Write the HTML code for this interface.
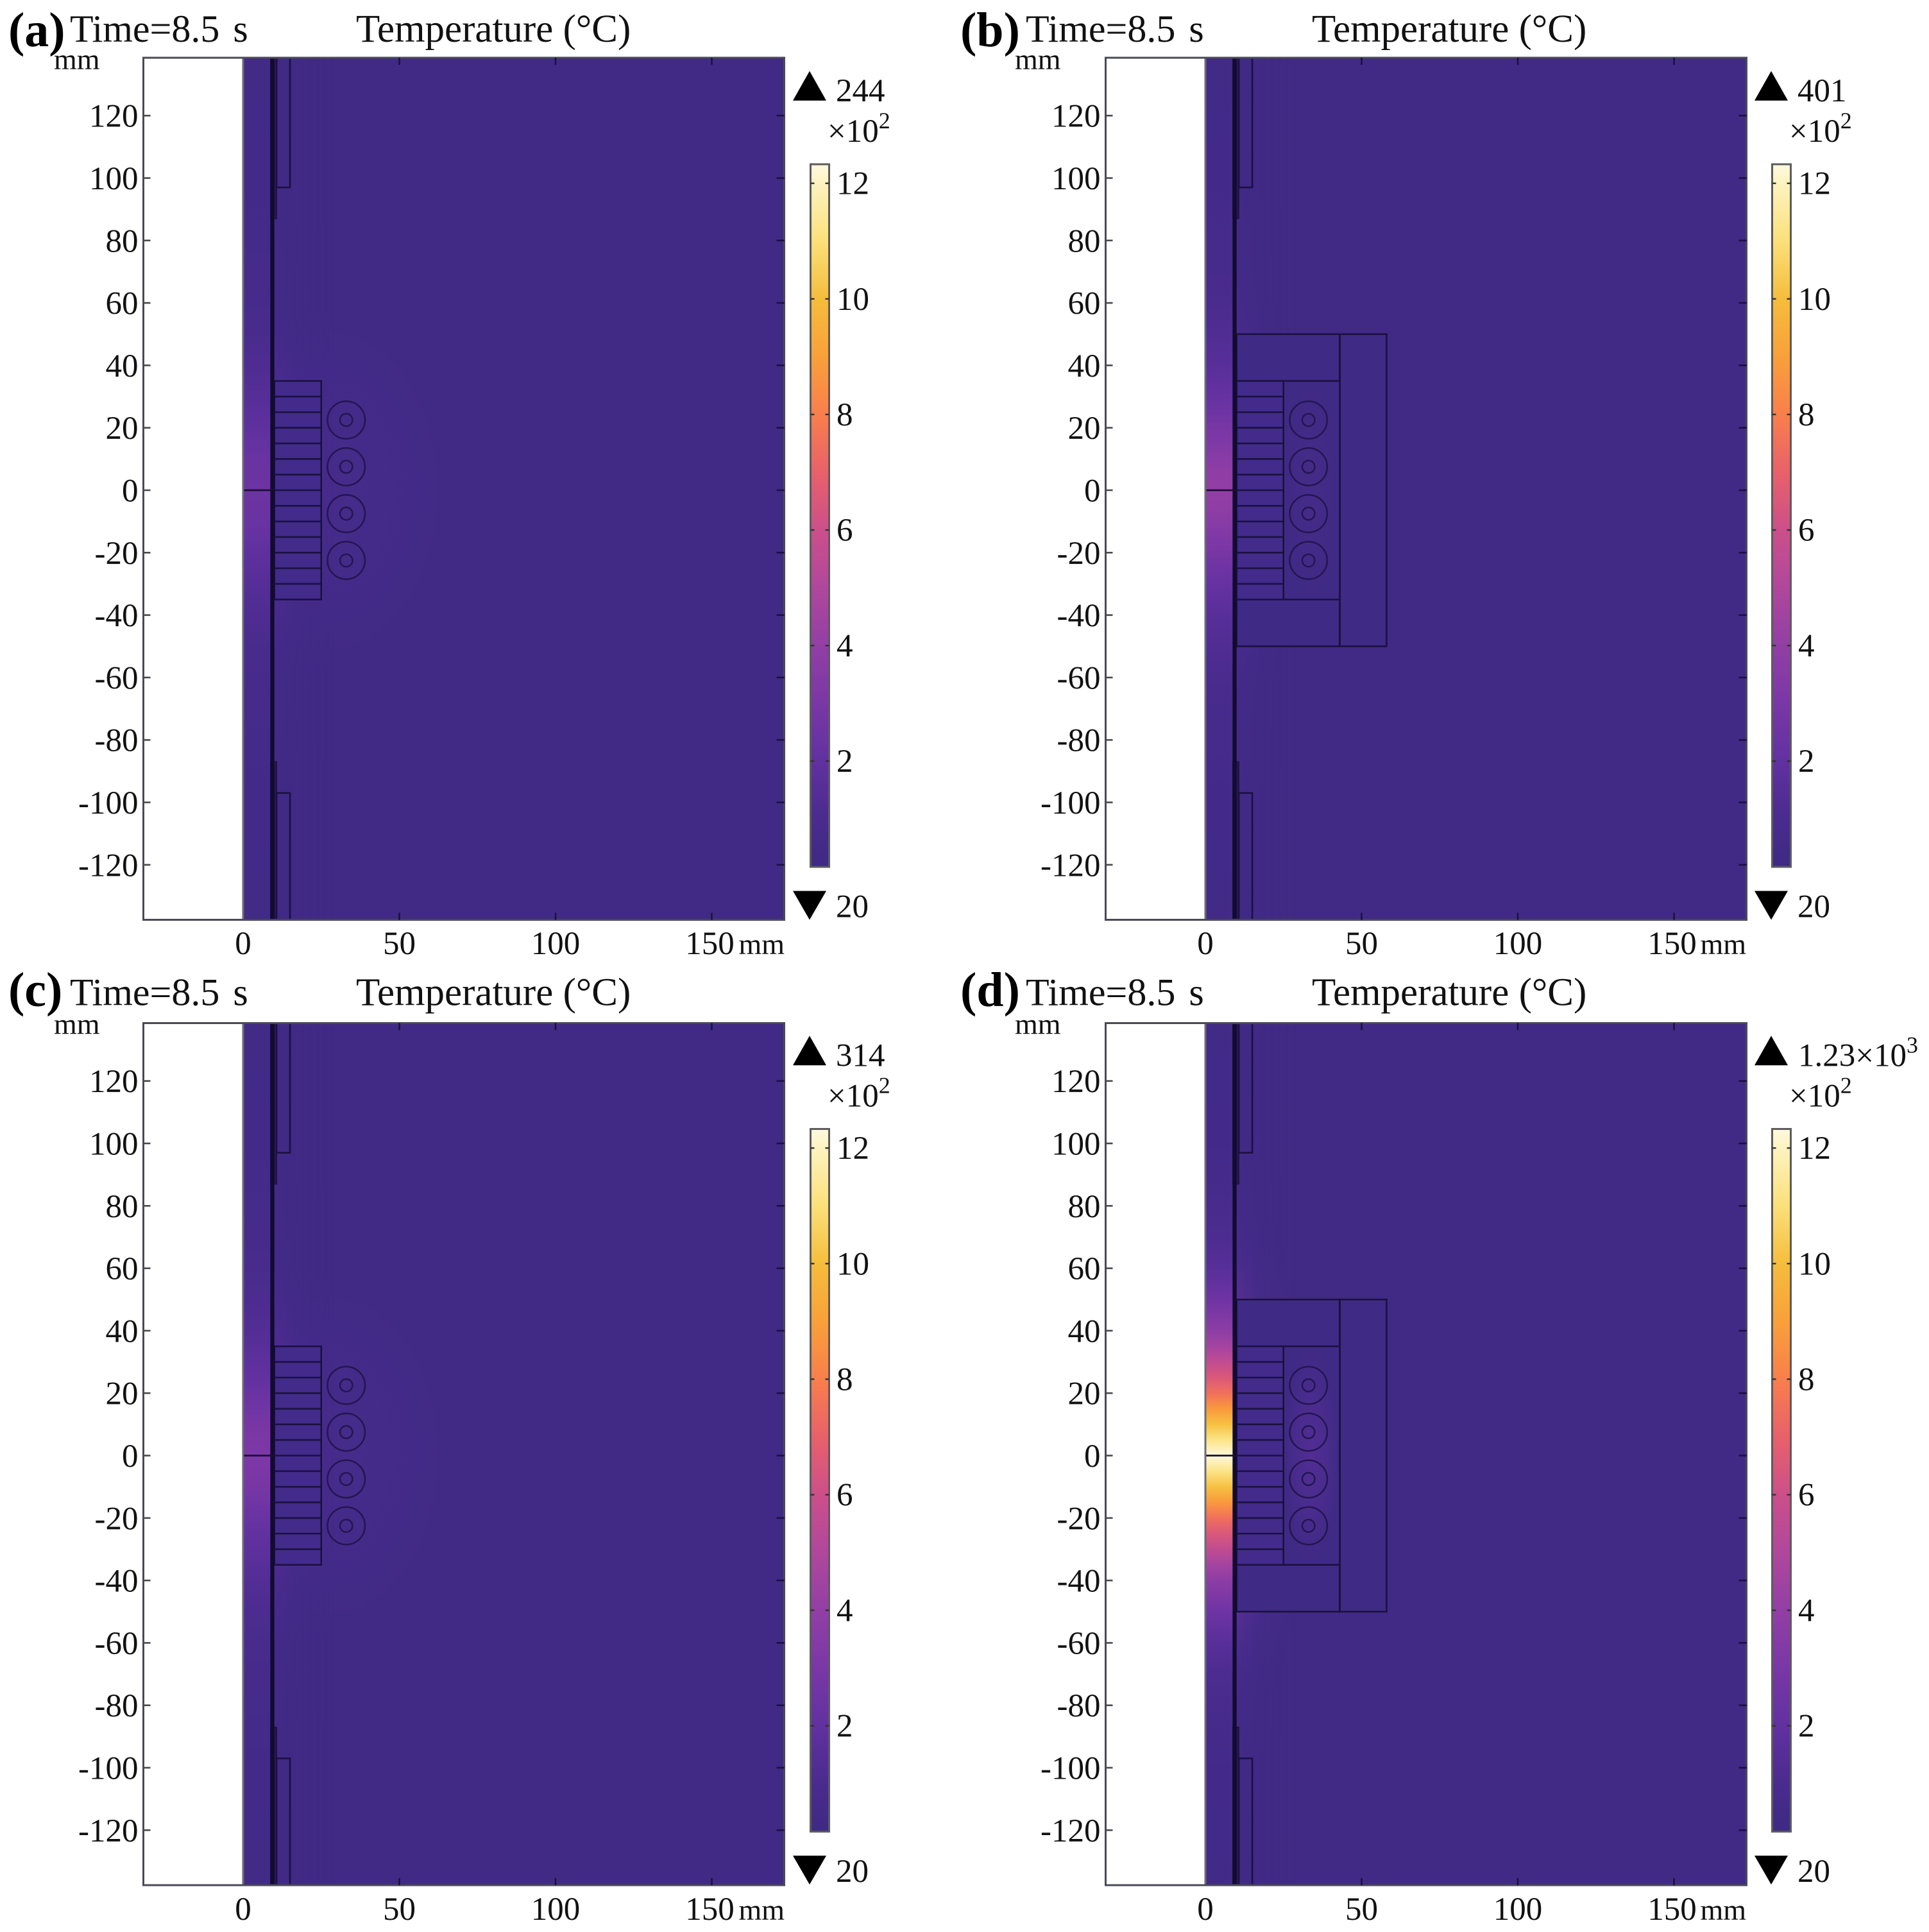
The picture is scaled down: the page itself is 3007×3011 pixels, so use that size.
<!DOCTYPE html>
<html lang="en">
<head>
<meta charset="utf-8">
<title>Temperature distribution at 8.5 s</title>
<style>
html,body{margin:0;padding:0;background:#fff;}
svg{display:block;}
text{font-family:"Liberation Serif",serif;fill:#111;}
.t{font-size:61px;}
.tm{font-size:60px;word-spacing:6px;}
.l{font-size:76px;font-weight:bold;fill:#000;}
.n{font-size:51px;}
.u{font-size:46px;}
.s{font-size:36px;}
</style>
</head>
<body>
<svg id="chart" xmlns="http://www.w3.org/2000/svg" width="3007" height="3011" viewBox="0 0 3007 3011">
<rect width="3007" height="3011" fill="#fff"/>
<defs id="defs"></defs>
<g id="plots"></g>

<g>
<text class="l" x="13" y="72">(a)</text>
<text class="tm" x="109" y="65">Time=8.5 s</text>
<text class="t" x="555" y="65">Temperature (°C)</text>
<text class="u" x="84" y="108">mm</text>
<text class="u" x="1223" y="1487" text-anchor="end">mm</text>
<text class="n" x="1303" y="158">244</text>
<text class="n" x="1290" y="221">×10<tspan class="s" dy="-21">2</tspan></text>
<text class="n" x="1303" y="1429.5">20</text>
</g>
<g>
<text class="l" x="1497" y="72">(b)</text>
<text class="tm" x="1599" y="65">Time=8.5 s</text>
<text class="t" x="2045" y="65">Temperature (°C)</text>
<text class="u" x="1582" y="108">mm</text>
<text class="u" x="2722" y="1487" text-anchor="end">mm</text>
<text class="n" x="2802" y="158">401</text>
<text class="n" x="2789" y="221">×10<tspan class="s" dy="-21">2</tspan></text>
<text class="n" x="2802" y="1429.5">20</text>
</g>
<g>
<text class="l" x="13" y="1568">(c)</text>
<text class="tm" x="109" y="1566.5">Time=8.5 s</text>
<text class="t" x="555" y="1566.5">Temperature (°C)</text>
<text class="u" x="84" y="1611.5">mm</text>
<text class="u" x="1223" y="2992" text-anchor="end">mm</text>
<text class="n" x="1303" y="1661.5">314</text>
<text class="n" x="1290" y="1724.5">×10<tspan class="s" dy="-21">2</tspan></text>
<text class="n" x="1303" y="2933">20</text>
</g>
<g>
<text class="l" x="1497" y="1568">(d)</text>
<text class="tm" x="1599" y="1566.5">Time=8.5 s</text>
<text class="t" x="2045" y="1566.5">Temperature (°C)</text>
<text class="u" x="1582" y="1611.5">mm</text>
<text class="u" x="2722" y="2992" text-anchor="end">mm</text>
<text class="n" x="2803" y="1661.5">1.23×10<tspan class="s" dy="-21">3</tspan></text>
<text class="n" x="2789" y="1724.5">×10<tspan class="s" dy="-21">2</tspan></text>
<text class="n" x="2802" y="2933">20</text>
</g>
</svg>

<script>
// ---- data ----
const xTicks = [0, 50, 100, 150];
const yTicks = [120, 100, 80, 60, 40, 20, 0, -20, -40, -60, -80, -100, -120];
const colorbarTicks = [2, 4, 6, 8, 10, 12];

// colormap (value in units of 100 degC -> colour)
const cmapValues = [0.17, 1, 2, 3, 4, 5, 6, 7, 8, 9, 10, 11, 12, 12.33];
const cmapColors = ['#3e2a84', '#4a2b8e', '#6131a0', '#7a37a6', '#923fa5', '#b0479c', '#cc4f8a', '#e8616a', '#f97f4c', '#f9a03a', '#f5bd3c', '#fbe07a', '#fdf3c0', '#fff9e0'];

// temperature (x100 degC) in the central stripe against |y| in mm
const stripeY = [0, 5, 10, 15, 20, 25, 30, 35, 40, 50, 60, 70, 80, 100, 138];
const stripeA = [2.44, 2.4, 2.3, 2.1, 1.9, 1.7, 1.5, 1.35, 1.2, 0.95, 0.8, 0.7, 0.6, 0.5, 0.42];
const stripeB = [4.01, 3.9, 3.6, 3.2, 2.9, 2.5, 2.2, 1.9, 1.6, 1.25, 1.0, 0.8, 0.7, 0.5, 0.42];
const stripeC = [3.14, 3.05, 2.9, 2.6, 2.3, 2.05, 1.85, 1.6, 1.4, 1.1, 0.9, 0.75, 0.65, 0.5, 0.42];
const stripeD = [12.3, 11.2, 10.1, 8.8, 7.5, 6.5, 5.6, 4.6, 3.8, 2.5, 1.6, 1.1, 0.85, 0.55, 0.42];
// temperature in the coil zone, per panel
const coilZoneTemp = [0.72, 0.62, 0.75, 1.35];
// geometry of the model, in mm
const coilY = [22.5, 7.5, -7.5, -22.5];
const laminationY = [35, 30, 25, 20, 15, 10, 5, 0, -5, -10, -15, -20, -25, -30, -35];
const panelKeys = ['a', 'b', 'c', 'd'];
const panelHasYoke = [false, true, false, true];

// ---- layout ----
const NS = 'http://www.w3.org/2000/svg';
const plots = document.getElementById('plots');
const defs = document.getElementById('defs');
const stripes = [stripeA, stripeB, stripeC, stripeD];
const PX_X = 4.87, PX_Y = 4.865;
const DX = 1500, DY = 1504.5;
const LINE = '#1b1140';

function mk(tag, attrs, parent) {
  const n = document.createElementNS(NS, tag);
  for (const k in attrs) n.setAttribute(k, attrs[k]);
  if (parent) parent.appendChild(n);
  return n;
}
function hex(c) { return [1, 3, 5].map(i => parseInt(c.substr(i, 2), 16)); }
function colorOf(v) {
  if (v <= cmapValues[0]) return cmapColors[0];
  for (let i = 1; i < cmapValues.length; i++) {
    if (v <= cmapValues[i]) {
      const t = (v - cmapValues[i - 1]) / (cmapValues[i] - cmapValues[i - 1]);
      const a = hex(cmapColors[i - 1]), b = hex(cmapColors[i]);
      return 'rgb(' + a.map((x, j) => Math.round(x + (b[j] - x) * t)).join(',') + ')';
    }
  }
  return cmapColors[cmapColors.length - 1];
}

// shared horizontal fade mask
const fade = mk('linearGradient', { id: 'fadeGrad', x1: 0, x2: 1, y1: 0, y2: 0 }, defs);
mk('stop', { offset: 0, 'stop-color': '#fff', 'stop-opacity': 0.5 }, fade);
mk('stop', { offset: 0.3, 'stop-color': '#fff', 'stop-opacity': 0.12 }, fade);
mk('stop', { offset: 0.8, 'stop-color': '#fff', 'stop-opacity': 0 }, fade);

panelKeys.forEach((key, p) => {
  const col = p % 2, row = p > 1 ? 1 : 0;
  const ox = col * DX, oy = row * DY;
  const X = mm => 379 + ox + mm * PX_X;
  const Y = mm => 764 + oy - mm * PX_Y;
  const left = 223.5 + ox, right = 1222.5 + ox, top = 90 + oy, bottom = 1433.5 + oy;
  const profile = stripes[p];

  const g = mk('g', {}, plots);
  
  

  // gradients
  const grad = mk('linearGradient', { id: 'stripe-' + key, gradientUnits: 'userSpaceOnUse', x1: 0, x2: 0, y1: Y(138), y2: Y(-138) }, defs);
  for (let i = stripeY.length - 1; i >= 0; i--) {
    mk('stop', { offset: (138 - stripeY[i]) / 276, 'stop-color': colorOf(profile[i]) }, grad);
  }
  for (let i = 1; i < stripeY.length; i++) {
    mk('stop', { offset: (138 + stripeY[i]) / 276, 'stop-color': colorOf(profile[i]) }, grad);
  }
  const mask = mk('mask', { id: 'fade-' + key, maskUnits: 'userSpaceOnUse', x: X(10), y: top, width: X(34) - X(10), height: bottom - top }, defs);
  mk('rect', { x: X(10), y: top, width: X(34) - X(10), height: bottom - top, fill: 'url(#fadeGrad)' }, mask);
  const rad = mk('radialGradient', { id: 'coil-' + key }, defs);
  mk('stop', { offset: 0, 'stop-color': colorOf(coilZoneTemp[p]), 'stop-opacity': 1 }, rad);
  mk('stop', { offset: 0.55, 'stop-color': colorOf(coilZoneTemp[p]), 'stop-opacity': 0.55 }, rad);
  mk('stop', { offset: 1, 'stop-color': colorOf(coilZoneTemp[p]), 'stop-opacity': 0 }, rad);
  const clip = mk('clipPath', { id: 'field-clip-' + key }, defs);
  mk('rect', { x: X(10), y: top, width: right - X(10), height: bottom - top }, clip);

  // field background
  const field = mk('rect', { x: X(0), y: top, width: right - X(0), height: bottom - top, fill: '#402a85' }, g);
  
  

  // wide glow around coils
  if (!panelHasYoke[p]) {
    const wide = mk('ellipse', { cx: X(28), cy: Y(0), rx: 42 * PX_X, ry: 62 * PX_Y, fill: 'url(#coil-' + key + ')', 'clip-path': 'url(#field-clip-' + key + ')' }, g);
    
    
  }

  // glow spreading from the heated stripe
  const glow = mk('rect', { x: X(10), y: top, width: X(34) - X(10), height: bottom - top, fill: 'url(#stripe-' + key + ')', mask: 'url(#fade-' + key + ')' }, g);
  
  

  // heated stripe
  const stripe = mk('rect', { x: X(0), y: top, width: X(9) - X(0), height: bottom - top, fill: 'url(#stripe-' + key + ')' }, g);
  
  

  // outer yoke box
  if (panelHasYoke[p]) {
    const yoke = mk('rect', { x: X(10), y: Y(50), width: X(58) - X(10), height: Y(-50) - Y(50), fill: '#3f2a85', stroke: LINE, 'stroke-width': 2.6 }, g);
    
    
    const inner = mk('line', { x1: X(43), x2: X(43), y1: Y(50), y2: Y(-50), stroke: LINE, 'stroke-width': 3 }, g);
    
    
    const slot = mk('rect', { x: X(10), y: Y(35), width: X(43) - X(10), height: Y(-35) - Y(35), fill: '#3f2a85', stroke: LINE, 'stroke-width': 2.6 }, g);
    
    
    const zone = mk('ellipse', { cx: X(34), cy: Y(0), rx: 9 * PX_X, ry: 34 * PX_Y, fill: 'url(#coil-' + key + ')' }, g);
    
    
  }

  // laminated flux concentrator
  const lam = mk('rect', { x: X(10), y: Y(35), width: X(25) - X(10), height: Y(-35) - Y(35), fill: '#422b8a', stroke: LINE, 'stroke-width': 2.6 }, g);
  
  
  laminationY.slice(1, -1).forEach(v => {
    const ln = mk('line', { x1: X(10), x2: X(25), y1: Y(v), y2: Y(v), stroke: LINE, 'stroke-width': 2.6 }, g);
    
    
  });

  // coils
  coilY.forEach(v => {
    const outer = mk('circle', { cx: X(33), cy: Y(v), r: 6 * PX_X, fill: 'none', stroke: '#24164f', 'stroke-width': 2.5 }, g);
    
    
    const innerC = mk('circle', { cx: X(33), cy: Y(v), r: 2 * PX_X, fill: 'none', stroke: '#24164f', 'stroke-width': 2.5 }, g);
    
    
  });

  // top and bottom structures
  [[top, Y(97), Y(87)], [bottom, Y(-97), Y(-87)]].forEach(s => {
    const yA = s[0], yB = s[1], yC = s[2];
    const block = mk('rect', { x: X(10.7), y: Math.min(yA, yB), width: X(15) - X(10.7), height: Math.abs(yB - yA), fill: 'none', stroke: LINE, 'stroke-width': 2.6 }, g);
    
    
    const slim = mk('rect', { x: X(8.8), y: Math.min(yA, yC), width: X(10.7) - X(8.8), height: Math.abs(yC - yA), fill: '#241850', stroke: LINE, 'stroke-width': 1.5 }, g);
    
    
  });

  // thick wall line and symmetry line
  const wall = mk('rect', { x: X(8.7), y: top, width: X(10) - X(8.7), height: bottom - top, fill: '#120b30' }, g);
  
  
  const sym = mk('line', { x1: X(0), x2: X(10), y1: Y(0), y2: Y(0), stroke: '#1a0f30', 'stroke-width': 2.8 }, g);
  
  

  // axes
  const axisX0 = mk('line', { x1: X(0), x2: X(0), y1: top, y2: bottom, stroke: '#6a6a78', 'stroke-width': 3 }, g);
  
  
  const frame = mk('rect', { x: left, y: top, width: right - left, height: bottom - top, fill: 'none', stroke: '#4a4a55', 'stroke-width': 3 }, g);
  
  

  yTicks.forEach(v => {
    const tl = mk('line', { x1: left, x2: left + 11, y1: Y(v), y2: Y(v), stroke: '#4a4a4a', 'stroke-width': 2.6 }, g);
    
    
    const tr = mk('line', { x1: right - 12, x2: right, y1: Y(v), y2: Y(v), stroke: LINE, 'stroke-width': 2.6 }, g);
    
    
    const lab = mk('text', { x: left - 8, y: Y(v) + 17.5, 'text-anchor': 'end', 'class': 'n' }, g);
    
    
    lab.textContent = String(v);
  });
  xTicks.forEach(v => {
    if (v !== 0) {
      const tt = mk('line', { x1: X(v), x2: X(v), y1: top, y2: top + 11, stroke: LINE, 'stroke-width': 2.6 }, g);
      
      
      const tb = mk('line', { x1: X(v), x2: X(v), y1: bottom - 11, y2: bottom, stroke: LINE, 'stroke-width': 2.6 }, g);
      
      
    }
    const lab = mk('text', { x: X(v) - (v === 150 ? 3 : 0), y: 1487 + row * 1505, 'text-anchor': 'middle', 'class': 'n' }, g);
    
    
    lab.textContent = String(v);
  });

  // colour bar
  const cy0 = row * 1503.5, cx0 = col * 1499;
  const CB = v => 285.7 + cy0 + (12 - v) * 90.05;
  const cbGrad = mk('linearGradient', { id: 'cbar-' + key, gradientUnits: 'userSpaceOnUse', x1: 0, x2: 0, y1: CB(12.33), y2: CB(0.17) }, defs);
  for (let i = cmapValues.length - 1; i >= 0; i--) {
    mk('stop', { offset: (12.33 - cmapValues[i]) / (12.33 - 0.17), 'stop-color': cmapColors[i] }, cbGrad);
  }
  const cbL = 1263.5 + cx0, cbR = 1292.5 + cx0;
  const bar = mk('rect', { x: cbL, y: CB(12.33), width: cbR - cbL, height: CB(0.17) - CB(12.33), fill: 'url(#cbar-' + key + ')', stroke: '#5c5c5c', 'stroke-width': 3 }, g);
  
  
  colorbarTicks.forEach(v => {
    const a = mk('line', { x1: cbL, x2: cbL + 6, y1: CB(v), y2: CB(v), stroke: '#333', 'stroke-width': 2.4 }, g);
    
    
    const b = mk('line', { x1: cbR - 6, x2: cbR, y1: CB(v), y2: CB(v), stroke: '#333', 'stroke-width': 2.4 }, g);
    
    
    const lab = mk('text', { x: 1304 + cx0, y: CB(v) + 17, 'class': 'n' }, g);
    
    
    lab.textContent = String(v);
  });
  const up = mk('polygon', { points: (1236 + cx0) + ',' + (156.7 + cy0) + ' ' + (1288 + cx0) + ',' + (156.7 + cy0) + ' ' + (1262 + cx0) + ',' + (110.7 + cy0), fill: '#000' }, g);
  
  
  const down = mk('polygon', { points: (1236 + cx0) + ',' + (1388.5 + cy0) + ' ' + (1288 + cx0) + ',' + (1388.5 + cy0) + ' ' + (1262 + cx0) + ',' + (1433.5 + cy0), fill: '#000' }, g);
  
  
});
</script>
</body>
</html>
